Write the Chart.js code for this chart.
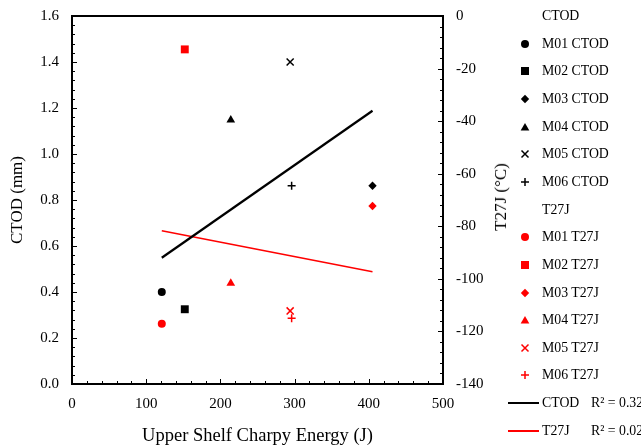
<!DOCTYPE html>
<html><head><meta charset="utf-8">
<script src="https://cdn.jsdelivr.net/npm/chart.js@4/dist/chart.umd.min.js"></script>
<style>
html,body{margin:0;padding:0;background:#fff;}
#wrap{position:relative;width:641px;height:447px;overflow:hidden;}
#c{position:absolute;left:0;top:0;}
.lg{position:absolute;font-family:"Liberation Serif","Times New Roman",serif;font-size:13.8px;color:#000;white-space:nowrap;height:20px;line-height:20px;}
.mk{position:absolute;line-height:0;}
.mk svg{display:block;}
#rtitle{position:absolute;font-family:"Liberation Serif","Times New Roman",serif;font-size:17px;color:#000;white-space:nowrap;transform:translate(-50%,-50%) rotate(-90deg);}
</style></head>
<body>
<div id="wrap">
<canvas id="c" width="641" height="447"></canvas>
<div id="rtitle" style="left:501px;top:197px;">T27J (°C)</div>
<div id="legend"></div>
</div>
<script>
// ---- data ----
const models = ['M01', 'M02', 'M03', 'M04', 'M05', 'M06'];
const charpyEnergy = [121, 152, 405, 214, 294, 296];        // J
const ctodValues = [0.40, 0.325, 0.862, 1.148, 1.40, 0.862]; // mm
const t27jValues = [-117.1, -12.7, -72.3, -101.7, -112.2, -115.0]; // °C
const trendX = [121, 405];
const ctodTrendY = [0.549, 1.188];
const t27jTrendY = [-81.7, -97.3];
const ctodR2 = '0.32';
const t27jR2 = '0.02';
const xTicks = [0, 100, 200, 300, 400, 500];
const yTicks = [0.0, 0.2, 0.4, 0.6, 0.8, 1.0, 1.2, 1.4, 1.6];
const y2Ticks = [0, -20, -40, -60, -80, -100, -120, -140];

// ---- styles ----
const markerStyles = ['circle', 'rect', 'rectRot', 'triangle', 'crossRot', 'cross'];
const markerRadius = {circle: 4, rect: 5.6, rectRot: 4.2, triangle: 5, crossRot: 5, cross: 4};
const RED = '#ff0000', BLACK = '#000000';
const FONT = '"Liberation Serif","Times New Roman",serif';

const datasets = [];
models.forEach((m, i) => {
  const st = markerStyles[i];
  datasets.push({
    label: m + ' CTOD', yAxisID: 'y',
    data: [{x: charpyEnergy[i], y: ctodValues[i]}],
    pointStyle: st, pointRadius: markerRadius[st],
    backgroundColor: BLACK, borderColor: BLACK, pointBorderWidth: (st === 'crossRot' || st === 'cross') ? 1.5 : 0
  });
});
models.forEach((m, i) => {
  const st = markerStyles[i];
  datasets.push({
    label: m + ' T27J', yAxisID: 'y2',
    data: [{x: charpyEnergy[i], y: t27jValues[i]}],
    pointStyle: st, pointRadius: markerRadius[st],
    backgroundColor: RED, borderColor: RED, pointBorderWidth: (st === 'crossRot' || st === 'cross') ? 1.5 : 0
  });
});
datasets.push({
  type: 'line', label: 'CTOD trend', yAxisID: 'y',
  data: trendX.map((x, k) => ({x, y: ctodTrendY[k]})),
  borderColor: BLACK, borderWidth: 2.2, pointRadius: 0, fill: false
});
datasets.push({
  type: 'line', label: 'T27J trend', yAxisID: 'y2',
  data: trendX.map((x, k) => ({x, y: t27jTrendY[k]})),
  borderColor: RED, borderWidth: 1.5, pointRadius: 0, fill: false
});

const minorTicks = {
  x: {minor: 20, every: 5},
  y: {minor: 0.04, every: 5},
  y2: {minor: 4, every: 5}
};

const framePlugin = {
  id: 'frame',
  afterDatasetsDraw(chart) {
    const ctx = chart.ctx, a = chart.chartArea;
    ctx.save();
    ctx.strokeStyle = '#000';
    ctx.lineWidth = 1;
    ['x', 'y', 'y2'].forEach(id => {
      const s = chart.scales[id];
      const cfg = minorTicks[id];
      const n = Math.round((s.max - s.min) / cfg.minor);
      for (let i = 0; i <= n; i++) {
        const v = s.min + i * cfg.minor;
        const len = (i % cfg.every === 0) ? 5 : 3;
        const p = Math.round(s.getPixelForValue(v)) + 0.5;
        ctx.beginPath();
        if (id === 'x') { ctx.moveTo(p, a.bottom); ctx.lineTo(p, a.bottom - len); }
        else if (id === 'y') { ctx.moveTo(a.left, p); ctx.lineTo(a.left + len, p); }
        else { ctx.moveTo(a.right, p); ctx.lineTo(a.right - len, p); }
        ctx.stroke();
      }
    });
    ctx.lineWidth = 2;
    ctx.strokeRect(a.left, a.top, a.right - a.left, a.bottom - a.top);
    ctx.restore();
  }
};

function noPad(s) { s.paddingTop = 0; s.paddingBottom = 0; s.paddingLeft = 0; s.paddingRight = 0; }

new Chart(document.getElementById('c'), {
  type: 'scatter',
  data: {datasets},
  options: {
    responsive: false, animation: false, devicePixelRatio: 1,
    layout: {padding: {left: 0, right: 128, top: 16, bottom: 0}},
    plugins: {legend: {display: false}, tooltip: {enabled: false}},
    scales: {
      x: {
        type: 'linear', min: 0, max: 500,
        afterBuildTicks: s => { s.ticks = xTicks.map(v => ({value: v})); },
        afterFit: s => { s.height = 63; noPad(s); },
        ticks: {color: '#000', font: {family: FONT, size: 15}, padding: 11, maxRotation: 0},
        grid: {display: false, drawTicks: false}, border: {display: false},
        title: {display: true, text: 'Upper Shelf Charpy Energy (J)', color: '#000', font: {family: FONT, size: 18.5}, padding: {top: 0, bottom: 0}}
      },
      y: {
        type: 'linear', position: 'left', min: 0, max: 1.6,
        afterBuildTicks: s => { s.ticks = yTicks.map(v => ({value: v})); },
        afterFit: s => { s.width = 72; noPad(s); },
        ticks: {color: '#000', font: {family: FONT, size: 15}, padding: 13, callback: v => Number(v).toFixed(1)},
        grid: {display: false, drawTicks: false}, border: {display: false},
        title: {display: true, text: 'CTOD (mm)', color: '#000', font: {family: FONT, size: 17}, padding: {top: 7, bottom: 0}}
      },
      y2: {
        type: 'linear', position: 'right', min: -140, max: 0,
        afterBuildTicks: s => { s.ticks = y2Ticks.map(v => ({value: v})); },
        afterFit: s => { s.width = 70; noPad(s); },
        ticks: {color: '#000', font: {family: FONT, size: 15}, padding: 13, callback: v => String(v)},
        grid: {display: false, drawTicks: false}, border: {display: false}
      }
    }
  },
  plugins: [framePlugin]
});

// ---- legend (HTML) ----
function markerSVG(style, color) {
  const c = 6;
  let shape = '';
  if (style === 'circle') shape = `<circle cx="${c}" cy="${c}" r="4" fill="${color}"/>`;
  else if (style === 'rect') shape = `<rect x="${c-4}" y="${c-4}" width="8" height="8" fill="${color}"/>`;
  else if (style === 'rectRot') shape = `<polygon points="${c},${c-4.2} ${c+4.2},${c} ${c},${c+4.2} ${c-4.2},${c}" fill="${color}"/>`;
  else if (style === 'triangle') shape = `<polygon points="${c},${c-5} ${c+4.33},${c+2.5} ${c-4.33},${c+2.5}" fill="${color}"/>`;
  else if (style === 'crossRot') shape = `<path d="M${c-3.5},${c-3.5}L${c+3.5},${c+3.5}M${c+3.5},${c-3.5}L${c-3.5},${c+3.5}" stroke="${color}" stroke-width="1.5"/>`;
  else if (style === 'cross') shape = `<path d="M${c-4},${c}L${c+4},${c}M${c},${c-4}L${c},${c+4}" stroke="${color}" stroke-width="1.5"/>`;
  return `<svg width="12" height="12" viewBox="0 0 12 12">${shape}</svg>`;
}
const legendRows = [];
legendRows.push({text: 'CTOD'});
models.forEach((m, i) => legendRows.push({text: m + ' CTOD', marker: markerStyles[i], color: BLACK}));
legendRows.push({text: 'T27J'});
models.forEach((m, i) => legendRows.push({text: m + ' T27J', marker: markerStyles[i], color: RED}));
legendRows.push({text: 'CTOD', line: BLACK, lw: 2.2, r2: ctodR2});
legendRows.push({text: 'T27J', line: RED, lw: 1.5, r2: t27jR2});

const lg = document.getElementById('legend');
let html = '';
legendRows.forEach((r, k) => {
  const yc = 16 + k * 27.65;
  html += `<div class="lg" style="left:542px;top:${yc - 10}px;">${r.text}</div>`;
  if (r.marker) {
    const adj = r.marker === 'triangle' ? 1 : 0;
    html += `<div class="mk" style="left:519px;top:${yc - 6 + adj}px;">${markerSVG(r.marker, r.color)}</div>`;
  }
  if (r.line) {
    html += `<div class="mk" style="left:508px;top:${yc - r.lw/2}px;width:31px;height:${r.lw}px;background:${r.line};"></div>`;
    html += `<div class="lg" style="left:591px;top:${yc - 10}px;">R² = ${r.r2}</div>`;
  }
});
lg.innerHTML = html;
</script>
</body></html>
